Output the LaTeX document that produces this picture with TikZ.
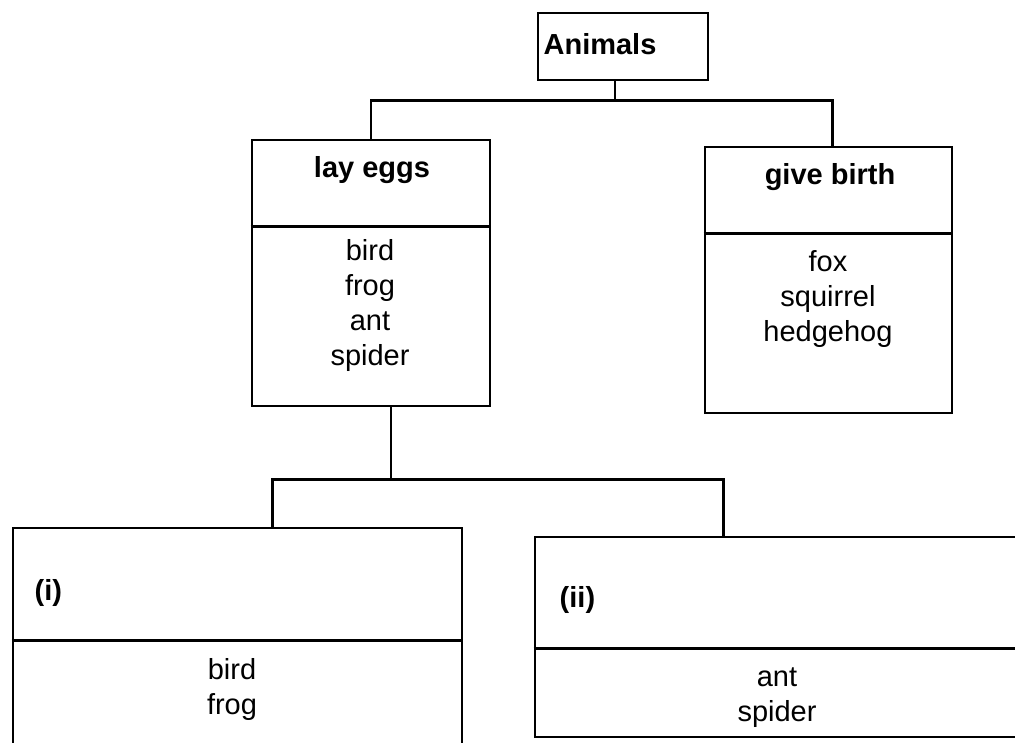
\documentclass[tikz,border=0pt]{standalone}
\usepackage{fontspec}
\setmainfont{Liberation Sans}
\begin{document}
\begin{tikzpicture}[x=1pt,y=-1pt,line width=2.8pt,
  font=\fontsize{29}{35}\selectfont,
  box/.style={draw,rectangle,inner sep=0pt},
  head/.style={font=\fontsize{29}{35}\selectfont\bfseries},
  list/.style={align=center}]

\clip (0,0) rectangle (1015,743);

% boxes
\node[box,minimum width=170pt,minimum height=67pt] (animals) at (623,46.5) {};
\node[box,minimum width=238pt,minimum height=266pt] (layeggs) at (371,273) {};
\node[box,minimum width=247pt,minimum height=266pt] (givebirth) at (828.5,280) {};
\node[box,minimum width=449pt,minimum height=240pt] (boxi) at (237.5,648) {};
\node[box,minimum width=495pt,minimum height=200pt] (boxii) at (782.5,637) {};

% dividers
\draw ([yshift=-88pt]layeggs.north west) -- ([yshift=-88pt]layeggs.north east);
\draw ([yshift=-88pt]givebirth.north west) -- ([yshift=-88pt]givebirth.north east);
\draw ([yshift=-114pt]boxi.north west) -- ([yshift=-114pt]boxi.north east);
\draw ([yshift=-113pt]boxii.north west) -- ([yshift=-113pt]boxii.north east);

% connectors
\draw ([xshift=-8pt]animals.south) -- ++(0,19) coordinate (fork1);
\draw (layeggs.north) |- (fork1) -| ([xshift=4pt]givebirth.north);
\draw ([xshift=20pt]layeggs.south) -- ++(0,72) coordinate (fork2);
\draw ([xshift=35pt]boxi.north) |- (fork2) -| ([xshift=-59pt]boxii.north);

% texts
\node[head] (animalsT) at (600,44) {Animals};
\node[head] (layeggsT) at (372,170) {lay eggs};
\node[list] (layeggsL) at (370,306) {bird\\frog\\ant\\spider};
\node[head] (givebirthT) at (830,177) {give birth};
\node[list] (givebirthL) at (828,299) {fox\\squirrel\\hedgehog};
\node[head,anchor=west] (boxiT) at (30,593) {(i)};
\node[list] (boxiL) at (232,689) {bird\\frog};
\node[head,anchor=west] (boxiiT) at (555,600) {(ii)};
\node[list] (boxiiL) at (777,698) {ant\\spider};
\end{tikzpicture}
\end{document}
